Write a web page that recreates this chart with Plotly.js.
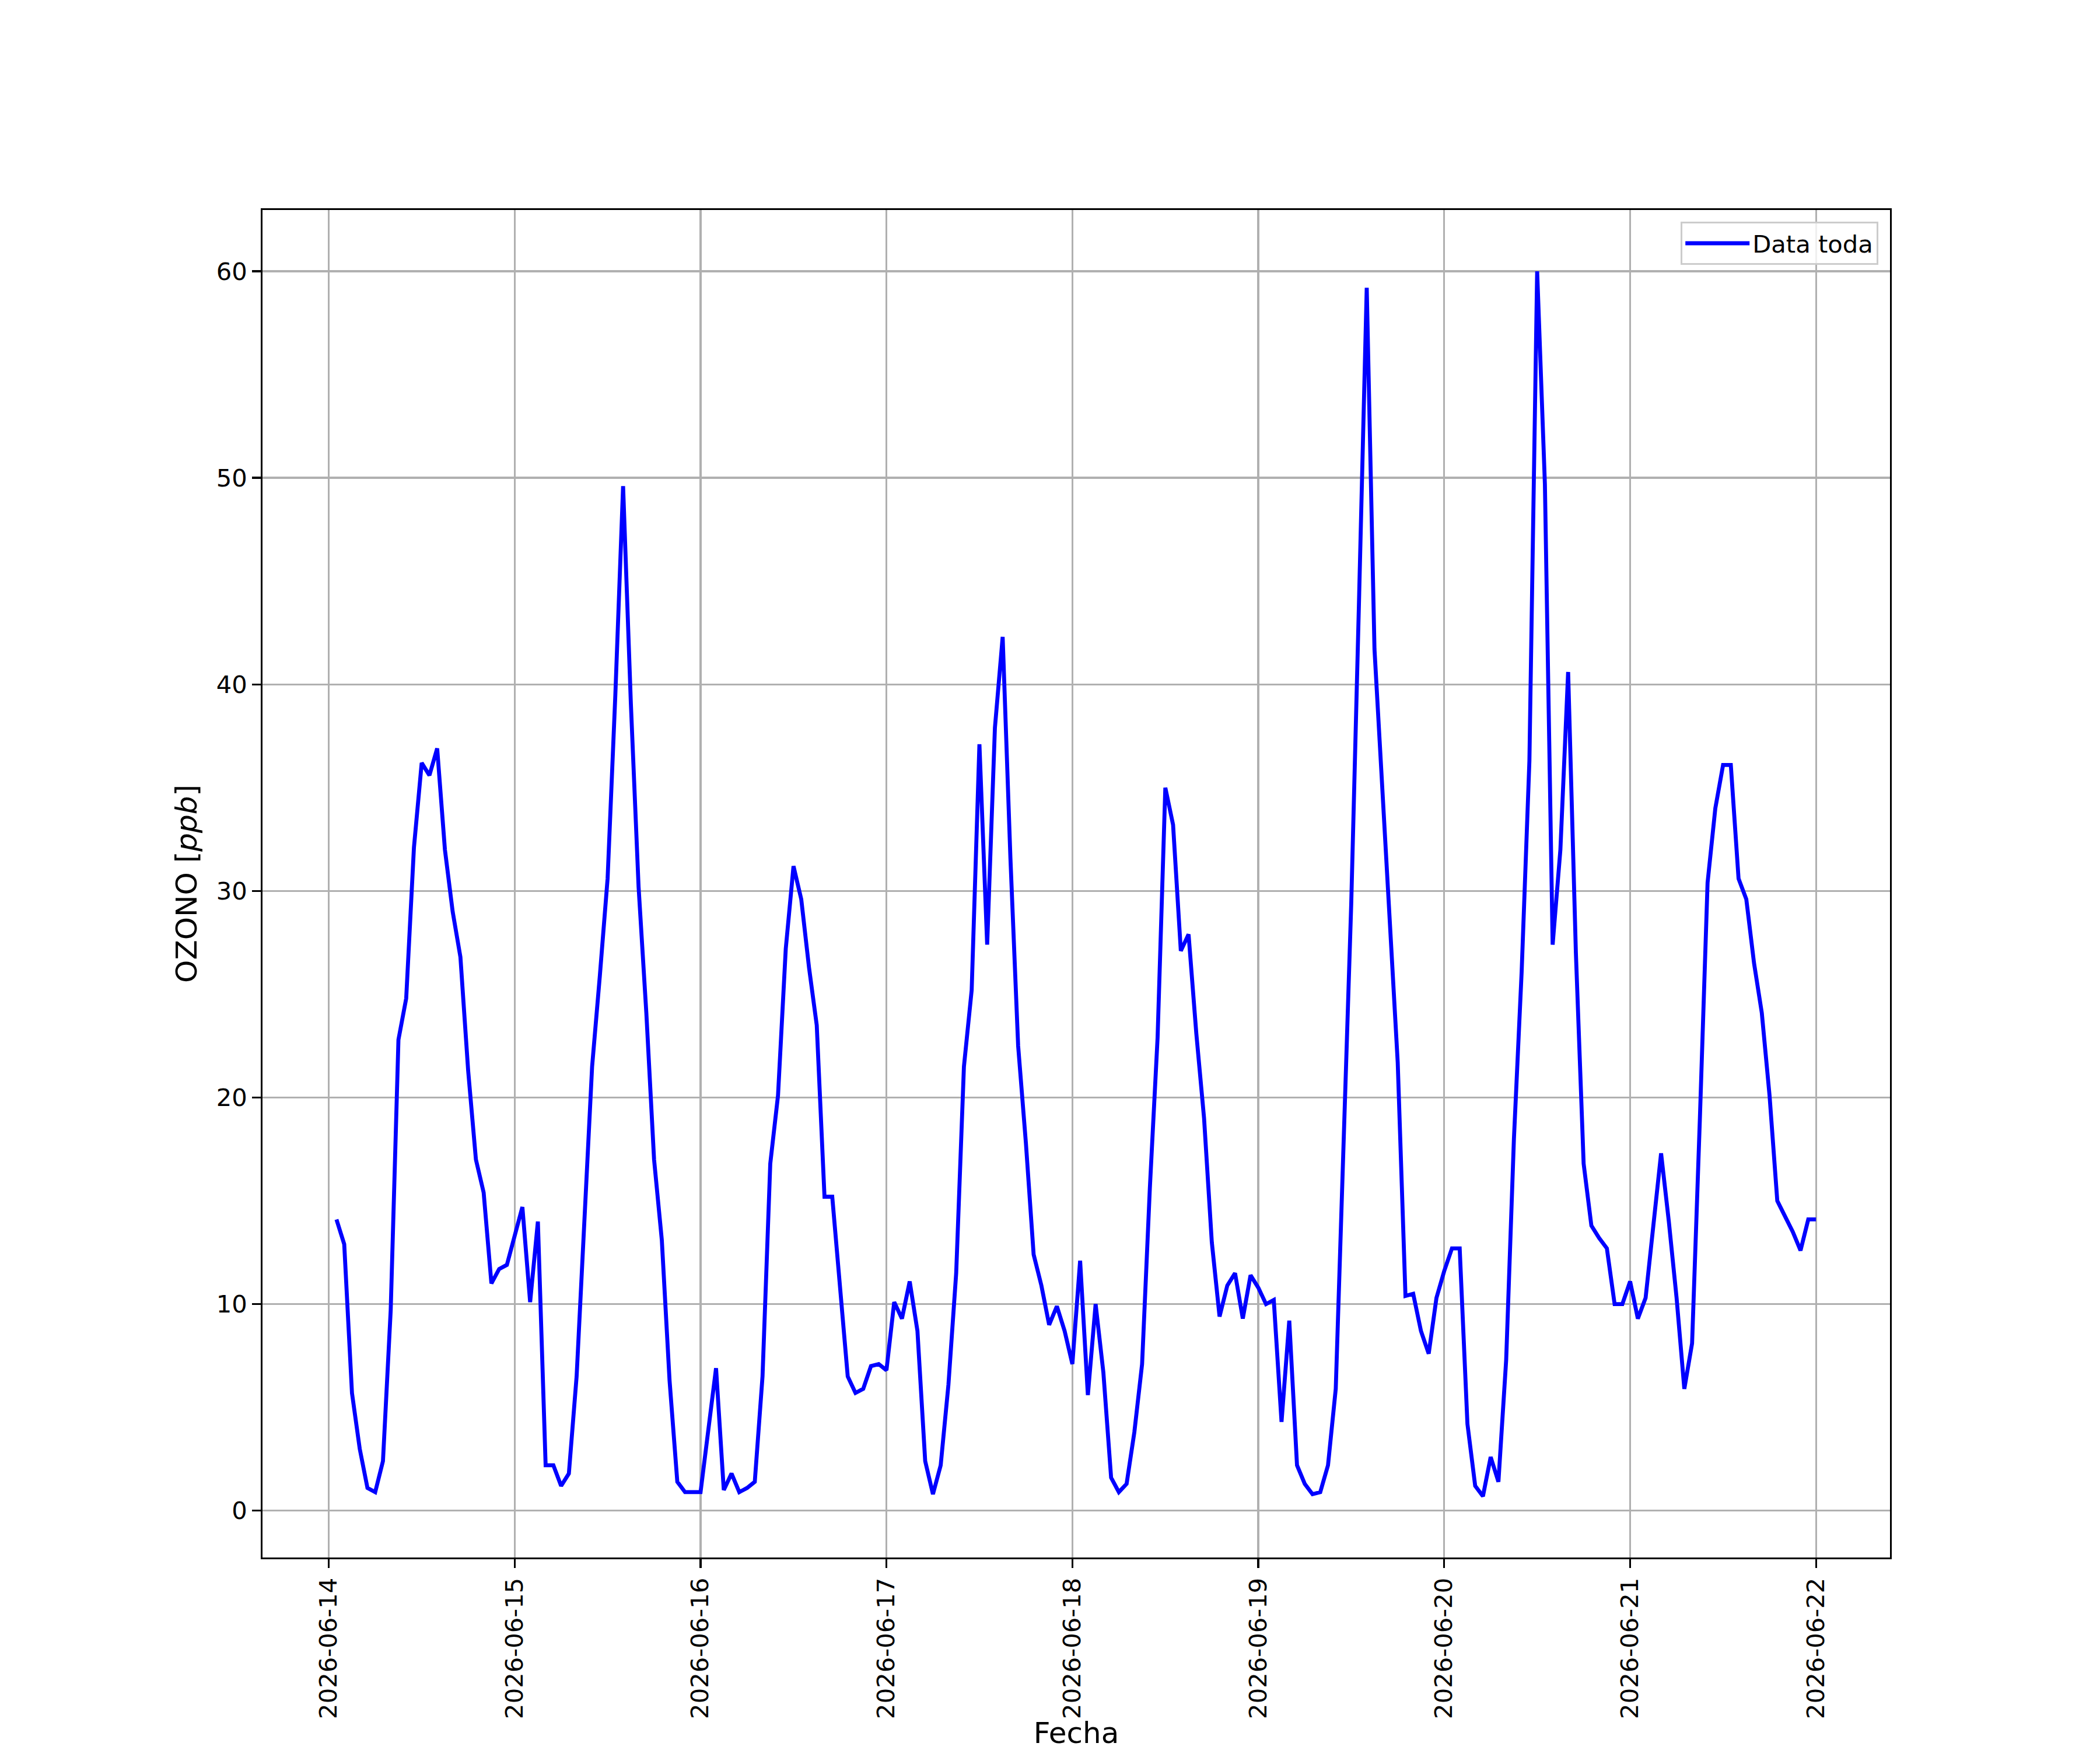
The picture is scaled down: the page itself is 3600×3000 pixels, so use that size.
<!DOCTYPE html>
<html>
<head>
<meta charset="utf-8">
<script src="https://cdn.plot.ly/plotly-3.0.1.min.js"></script>
<style>
  html, body { margin: 0; padding: 0; background: #ffffff; }
  #chart { width: 3600px; height: 3000px; }
</style>
</head>
<body>
<div id="chart"></div>
<script>
// ---- Data (hourly OZONO, ppb) ----
const fechas = ['2026-06-14','2026-06-15','2026-06-16','2026-06-17','2026-06-18','2026-06-19','2026-06-20','2026-06-21','2026-06-22'];
// 06-14 starts at 01:00
const ozono_0614 = [14.1, 12.9, 5.7, 3.0, 1.1, 0.9, 2.4, 9.7, 22.8, 24.8, 32.1, 36.2, 35.6, 36.9, 32.0, 29.0, 26.8, 21.3, 17.0, 15.4, 11.0, 11.7, 11.9];
const ozono_0615 = [13.3, 14.7, 10.1, 14.0, 2.2, 2.2, 1.2, 1.8, 6.5, 14.0, 21.5, 25.9, 30.6, 39.5, 49.6, 39.1, 30.2, 24.1, 17.0, 13.1, 6.3, 1.4, 0.9, 0.9];
const ozono_0616 = [0.9, 3.9, 6.9, 1.0, 1.8, 0.9, 1.1, 1.4, 6.5, 16.8, 20.1, 27.2, 31.2, 29.6, 26.3, 23.5, 15.2, 15.2, 11.1, 6.5, 5.7, 5.9, 7.0, 7.1];
const ozono_0617 = [6.8, 10.1, 9.3, 11.1, 8.7, 2.4, 0.8, 2.2, 6.1, 11.5, 21.5, 25.2, 37.1, 27.4, 37.9, 42.3, 31.6, 22.5, 17.8, 12.4, 10.9, 9.0, 9.9, 8.7];
const ozono_0618 = [7.1, 12.1, 5.6, 10.0, 6.7, 1.6, 0.9, 1.3, 3.8, 7.1, 15.6, 22.9, 35.0, 33.2, 27.1, 27.9, 23.1, 19.0, 13.0, 9.4, 10.9, 11.5, 9.3, 11.4];
const ozono_0619 = [10.8, 10.0, 10.2, 4.3, 9.2, 2.2, 1.3, 0.8, 0.9, 2.2, 5.9, 17.5, 29.4, 44.0, 59.2, 41.7, 35.1, 28.2, 21.7, 10.4, 10.5, 8.7, 7.6, 10.3];
const ozono_0620 = [11.6, 12.7, 12.7, 4.2, 1.2, 0.7, 2.6, 1.4, 7.3, 18.0, 26.1, 36.3, 60.0, 49.7, 27.4, 32.0, 40.6, 27.0, 16.8, 13.8, 13.2, 12.7, 10.0, 10.0];
const ozono_0621 = [11.1, 9.3, 10.3, 13.8, 17.3, 14.0, 10.3, 5.9, 8.1, 18.9, 30.4, 34.0, 36.1, 36.1, 30.6, 29.6, 26.5, 24.1, 20.1, 15.0, 14.3, 13.5, 12.6, 14.1];
// 06-22 00:00
const ozono_0622 = [14.1];

const horaInicio = [1, 0, 0, 0, 0, 0, 0, 0, 0];
const valoresPorDia = [ozono_0614, ozono_0615, ozono_0616, ozono_0617, ozono_0618, ozono_0619, ozono_0620, ozono_0621, ozono_0622];

const yTicks = [0, 10, 20, 30, 40, 50, 60];
const xTickLabels = fechas.slice();

// ---- Build the series ----
const x = [], y = [];
valoresPorDia.forEach((vals, d) => {
  vals.forEach((v, i) => {
    const h = horaInicio[d] + i;
    x.push(fechas[d] + ' ' + String(h).padStart(2, '0') + ':00:00');
    y.push(v);
  });
});

// matplotlib-like 5% margins
function toMs(s) { return new Date(s.replace(' ', 'T') + 'Z').getTime(); }
function toStr(ms) { return new Date(ms).toISOString().replace('T', ' ').replace('Z', ''); }
const t0 = toMs(x[0]), t1 = toMs(x[x.length - 1]);
const tpad = 0.05 * (t1 - t0);
const ymin = Math.min(...y), ymax = Math.max(...y);
const ypad = 0.05 * (ymax - ymin);

const FONT = 'DejaVu Sans, Liberation Sans, Arial, sans-serif';
const LW = 3.33;

const trace = {
  type: 'scatter',
  mode: 'lines',
  x: x,
  y: y,
  name: 'Data toda',
  line: { color: '#0000ff', width: 6.8 }
};

const layout = {
  width: 3600,
  height: 3000,
  paper_bgcolor: '#ffffff',
  plot_bgcolor: '#ffffff',
  margin: { l: 450, r: 360, t: 360, b: 330, pad: 0 },
  font: { family: FONT, size: 41.7, color: '#000000' },
  showlegend: true,
  legend: {
    x: 0.9928, xanchor: 'right',
    y: 0.9913, yanchor: 'top',
    bgcolor: 'rgba(255,255,255,0.8)',
    bordercolor: '#cccccc',
    borderwidth: 3.3,
    font: { family: FONT, size: 41.7, color: '#000000' },
    itemwidth: 110
  },
  xaxis: {
    type: 'date',
    range: [toStr(t0 - tpad), toStr(t1 + tpad)],
    tickmode: 'array',
    tickvals: fechas.map(f => f + ' 00:00:00'),
    ticktext: xTickLabels,
    tickangle: -90,
    ticks: 'outside',
    ticklen: 14.6,
    tickwidth: LW,
    tickcolor: '#000000',
    tickfont: { family: FONT, size: 41.7, color: '#000000' },
    showgrid: true,
    gridcolor: '#b0b0b0',
    gridwidth: LW,
    zeroline: false,
    showline: true,
    linecolor: '#000000',
    linewidth: LW,
    mirror: true,
    title: { text: 'Fecha', font: { family: FONT, size: 50, color: '#000000' }, standoff: 40 }
  },
  yaxis: {
    range: [ymin - ypad, ymax + ypad],
    tickmode: 'array',
    tickvals: yTicks,
    ticktext: yTicks.map(String),
    ticks: 'outside',
    ticklen: 14.6,
    tickwidth: LW,
    tickcolor: '#000000',
    tickfont: { family: FONT, size: 41.7, color: '#000000' },
    showgrid: true,
    gridcolor: '#b0b0b0',
    gridwidth: LW,
    zeroline: false,
    showline: true,
    linecolor: '#000000',
    linewidth: LW,
    mirror: true,
    title: { text: 'OZONO [<i>ppb</i>]', font: { family: FONT, size: 50, color: '#000000' }, standoff: 18 }
  }
};

Plotly.newPlot('chart', [trace], layout, { staticPlot: true, displayModeBar: false });
</script>
</body>
</html>
